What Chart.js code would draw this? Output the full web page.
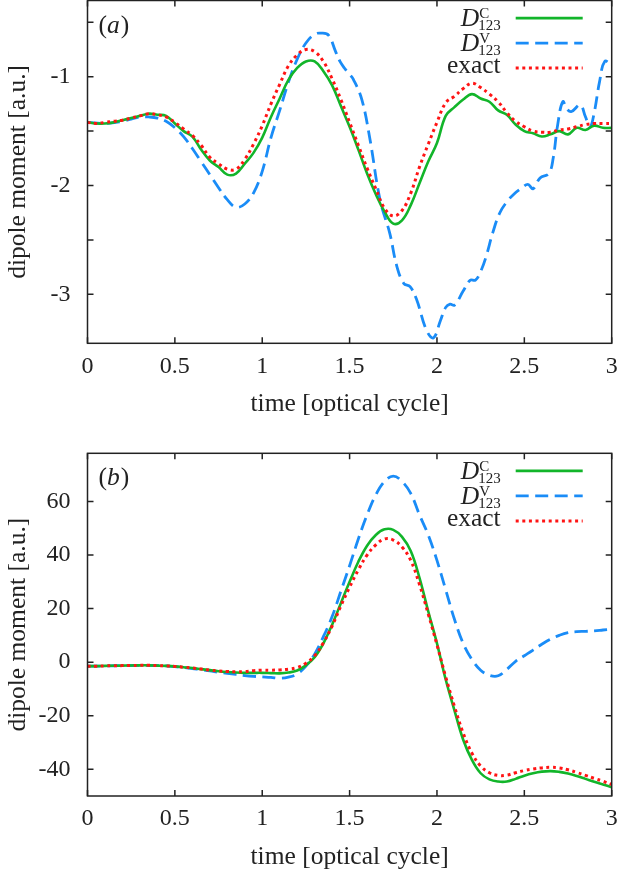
<!DOCTYPE html>
<html>
<head>
<meta charset="utf-8">
<script src="https://cdn.jsdelivr.net/npm/chart.js@4.4.1/dist/chart.umd.min.js"></script>
<style>
  html, body { margin: 0; padding: 0; background: #fff; }
  canvas { position: absolute; left: 0; }
  #chartA { top: 0; }
  #chartB { top: 430px; }
</style>
</head>
<body>
<canvas id="chartA" width="623" height="430"></canvas>
<canvas id="chartB" width="623" height="445"></canvas>
<script>
// time grid (optical cycles) shared by most curves
const tGrid = [0, 0.05, 0.1, 0.15, 0.2, 0.25, 0.3, 0.35, 0.4, 0.45, 0.5, 0.55, 0.6, 0.65, 0.7, 0.75, 0.8, 0.85, 0.9, 0.95,
  1, 1.05, 1.1, 1.15, 1.2, 1.25, 1.3, 1.35, 1.4, 1.45, 1.5, 1.55, 1.6, 1.65, 1.7, 1.75, 1.8, 1.85, 1.9, 1.95,
  2, 2.05, 2.1, 2.15, 2.2, 2.25, 2.3, 2.35, 2.4, 2.45, 2.5, 2.55, 2.6, 2.65, 2.7, 2.75, 2.8, 2.85, 2.9, 2.95, 3];

// panel (a)
const dcA = [-1.42, -1.43, -1.43, -1.42, -1.40, -1.38, -1.36, -1.34, -1.35, -1.36, -1.43, -1.50, -1.55, -1.67, -1.77, -1.83, -1.90, -1.89, -1.80, -1.70,
  -1.56, -1.37, -1.20, -1.03, -0.92, -0.86, -0.86, -0.95, -1.08, -1.27, -1.46, -1.67, -1.89, -2.08, -2.24, -2.35, -2.32, -2.18, -1.98, -1.78,
  -1.61, -1.36, -1.28, -1.21, -1.16, -1.20, -1.23, -1.31, -1.35, -1.44, -1.50, -1.52, -1.55, -1.53, -1.50, -1.53, -1.47, -1.49, -1.45, -1.47, -1.47];
const exactA = [-1.42, -1.43, -1.42, -1.41, -1.40, -1.38, -1.36, -1.34, -1.35, -1.37, -1.42, -1.48, -1.54, -1.63, -1.74, -1.80, -1.85, -1.85, -1.76, -1.62,
  -1.45, -1.25, -1.07, -0.90, -0.80, -0.75, -0.77, -0.86, -1.02, -1.21, -1.42, -1.63, -1.84, -2.03, -2.21, -2.28, -2.23, -2.07, -1.83, -1.62,
  -1.42, -1.24, -1.18, -1.11, -1.06, -1.10, -1.16, -1.23, -1.33, -1.41, -1.46, -1.50, -1.51, -1.51, -1.49, -1.48, -1.46, -1.44, -1.43, -1.43, -1.43];
// D^V is wigglier, so it gets its own time points
const tVA = [0, 0.1, 0.2, 0.25, 0.3, 0.35, 0.4, 0.45, 0.5, 0.55, 0.6, 0.65, 0.7, 0.75, 0.8, 0.85, 0.9, 0.95, 1.0, 1.05,
  1.1, 1.15, 1.2, 1.25, 1.3, 1.34, 1.38, 1.42, 1.445, 1.47, 1.5, 1.52, 1.57, 1.617, 1.674, 1.73, 1.77, 1.81, 1.846, 1.884,
  1.94, 1.98, 2.02, 2.05, 2.075, 2.1, 2.15, 2.19, 2.22, 2.25, 2.28, 2.32, 2.36, 2.4, 2.44, 2.48, 2.52, 2.55, 2.59, 2.64,
  2.665, 2.69, 2.72, 2.745, 2.77, 2.82, 2.85, 2.876, 2.9, 2.93, 2.96, 3.0];
const dvA = [-1.42, -1.43, -1.41, -1.39, -1.37, -1.37, -1.38, -1.41, -1.47, -1.55, -1.66, -1.78, -1.90, -2.02, -2.13, -2.20, -2.17, -2.07, -1.87, -1.56,
  -1.31, -1.05, -0.84, -0.69, -0.61, -0.60, -0.62, -0.77, -0.86, -0.92, -0.98, -1.02, -1.21, -1.58, -2.13, -2.44, -2.74, -2.90, -2.93, -3.05,
  -3.33, -3.40, -3.24, -3.12, -3.09, -3.10, -2.97, -2.87, -2.87, -2.79, -2.66, -2.43, -2.25, -2.15, -2.08, -2.03, -1.99, -2.03, -1.93, -1.89,
  -1.75, -1.45, -1.23, -1.30, -1.32, -1.26, -1.37, -1.46, -1.33, -1.05, -0.86, -0.89];

// panel (b)
const dcB = [-1.5, -1.5, -1.4, -1.35, -1.3, -1.25, -1.2, -1.2, -1.3, -1.4, -1.6, -1.9, -2.2, -2.6, -3.0, -3.4, -3.7, -3.9, -4.0, -4.0,
  -4.0, -4.1, -4.2, -3.9, -3.1, -1.2, 1.8, 7, 14, 22, 30, 37.5, 43.5, 47.5, 49.6, 49.4, 46.8, 41.5, 31.5, 19,
  7, -6.5, -18, -29, -36.5, -41.5, -43.8, -44.6, -44.6, -43.6, -42.4, -41.5, -40.9, -40.7, -41, -41.6, -42.5, -43.6, -44.7, -45.7, -46.7];
const dvB = [-1.5, -1.5, -1.4, -1.35, -1.3, -1.25, -1.2, -1.2, -1.3, -1.4, -1.7, -2.0, -2.4, -2.9, -3.3, -3.8, -4.2, -4.6, -5.0, -5.3,
  -5.5, -5.7, -6.0, -5.6, -4.4, -1.5, 3, 9.5, 17, 26.5, 36, 46, 55, 62.5, 67.5, 69.5, 67.5, 63, 55, 47.5,
  38, 27, 16, 7, 1, -3, -4.9, -5.1, -2.7, 0.3, 2.4, 4.5, 6.7, 8.6, 10, 11, 11.4, 11.5, 11.7, 12, 12.3];
const exactB = [-1.5, -1.5, -1.4, -1.35, -1.3, -1.25, -1.2, -1.2, -1.3, -1.4, -1.6, -1.9, -2.2, -2.6, -3.0, -3.3, -3.5, -3.6, -3.5, -3.2,
  -3.0, -3.0, -2.9, -2.6, -2.0, -0.4, 2.4, 7.2, 13.5, 21, 28, 34.5, 40, 43.8, 46, 45.6, 43, 38, 29, 18,
  6.5, -5.5, -16.5, -26.5, -34, -38.8, -41.3, -42.3, -42.2, -41.3, -40.5, -39.9, -39.5, -39.3, -39.5, -40.2, -41.2, -42.3, -43.4, -44.5, -45.7];

// ticks
const xTicks = [0, 0.5, 1, 1.5, 2, 2.5, 3];
const xLabels = ['0', '0.5', '1', '1.5', '2', '2.5', '3'];
const yTicksA = [-3, -2.5, -2, -1.5, -1, -0.5];
const yLabelsA = ['-3', '', '-2', '', '-1', ''];
const yTicksB = [-40, -20, 0, 20, 40, 60];
const yLabelsB = ['-40', '-20', '0', '20', '40', '60'];

const SERIF = '"Liberation Serif", "DejaVu Serif", serif';
const INK = '#222';
const styles = {
  dc: { color: '#12b52a', width: 2.6, dash: [] },
  dv: { color: '#1a8cf7', width: 2.8, dash: [13, 6.5] },
  exact: { color: '#ff1414', width: 3, dash: [3, 3.6] }
};

Chart.defaults.font.family = SERIF;
Chart.defaults.color = INK;

function pts(ts, vs) {
  return ts.map((t, i) => ({ x: t, y: vs[i] }));
}

function lineSet(label, data, st, order) {
  return {
    label: label,
    data: data,
    borderColor: st.color,
    borderWidth: st.width,
    borderDash: st.dash,
    pointRadius: 0,
    fill: false,
    tension: 0.4,
    order: order
  };
}

// frame with inward ticks on all four sides, key and panel label
const framePlugin = {
  id: 'frame',
  afterDatasetsDraw(chart, args, opts) {
    const ctx = chart.ctx;
    const a = chart.chartArea;
    const xs = chart.scales.x, ys = chart.scales.y;
    ctx.save();
    ctx.strokeStyle = INK;
    ctx.lineWidth = 1.5;
    ctx.setLineDash([]);
    ctx.strokeRect(a.left, a.top, a.right - a.left, a.bottom - a.top);
    ctx.beginPath();
    xs.ticks.forEach(t => {
      const px = xs.getPixelForValue(t.value);
      ctx.moveTo(px, a.bottom); ctx.lineTo(px, a.bottom - 6);
      ctx.moveTo(px, a.top); ctx.lineTo(px, a.top + 6);
    });
    ys.ticks.forEach(t => {
      const py = ys.getPixelForValue(t.value);
      ctx.moveTo(a.left, py); ctx.lineTo(a.left + 6, py);
      ctx.moveTo(a.right, py); ctx.lineTo(a.right - 6, py);
    });
    ctx.stroke();

    // panel label like "(a)"
    const lx = a.left + 11, ly = a.top + 32;
    ctx.fillStyle = INK;
    ctx.textBaseline = 'alphabetic';
    ctx.textAlign = 'left';
    ctx.font = '25.5px ' + SERIF;
    ctx.fillText('(', lx, ly);
    let w = ctx.measureText('(').width;
    ctx.font = 'italic 25.5px ' + SERIF;
    ctx.fillText(opts.panel, lx + w, ly);
    w += ctx.measureText(opts.panel).width + 1;
    ctx.font = '25.5px ' + SERIF;
    ctx.fillText(')', lx + w, ly);

    // key
    const xr = a.right - 111;
    const rows = [
      { sup: 'C', st: styles.dc },
      { sup: 'V', st: styles.dv },
      { text: 'exact', st: styles.exact }
    ];
    rows.forEach((row, i) => {
      const L = a.top + 17.6 + i * 25;
      ctx.fillStyle = INK;
      if (row.sup) {
        ctx.font = '15px ' + SERIF;
        ctx.textAlign = 'left';
        const sw = ctx.measureText('123').width;
        const sx = xr - sw;
        ctx.fillText('123', sx, L + 12);
        ctx.fillText(row.sup, sx + 1, L);
        ctx.font = 'italic 25.5px ' + SERIF;
        ctx.textAlign = 'right';
        ctx.fillText('D', sx + 1, L + 7.7);
      } else {
        ctx.font = '25.5px ' + SERIF;
        ctx.textAlign = 'right';
        ctx.fillText(row.text, xr, L + 5);
      }
      ctx.beginPath();
      ctx.strokeStyle = row.st.color;
      ctx.lineWidth = row.st.width;
      ctx.setLineDash(row.st.dash);
      ctx.moveTo(a.right - 96, L);
      ctx.lineTo(a.right - 29, L);
      ctx.stroke();
    });
    ctx.restore();
  }
};

function makePanel(id, cfg) {
  return new Chart(document.getElementById(id), {
    type: 'line',
    data: {
      datasets: [
        lineSet('exact', cfg.exact, styles.exact, 0),
        lineSet('D123C', cfg.dc, styles.dc, 1),
        lineSet('D123V', cfg.dv, styles.dv, 2)
      ]
    },
    options: {
      responsive: false,
      animation: false,
      events: [],
      layout: { padding: { top: cfg.top, right: 11.3, bottom: 0, left: 0 } },
      plugins: {
        legend: { display: false },
        tooltip: { enabled: false },
        frame: { panel: cfg.panel }
      },
      scales: {
        x: {
          type: 'linear',
          min: 0,
          max: 3,
          grid: { display: false, drawTicks: false },
          border: { display: false },
          afterBuildTicks: s => { s.ticks = xTicks.map(v => ({ value: v })); },
          ticks: {
            padding: cfg.xPad,
            maxRotation: 0,
            font: { size: 24 },
            callback: (v, i) => xLabels[i]
          },
          title: {
            display: true,
            text: 'time [optical cycle]',
            font: { size: 25.5 },
            padding: { top: 0, bottom: cfg.xTitlePad }
          },
          afterFit: s => {
            s.height = cfg.xHeight;
            s.paddingLeft = 0;
            s.paddingRight = 0;
          }
        },
        y: {
          type: 'linear',
          min: cfg.yMin,
          max: cfg.yMax,
          grid: { display: false, drawTicks: false },
          border: { display: false },
          afterBuildTicks: s => { s.ticks = cfg.yTicks.map(v => ({ value: v })); },
          ticks: {
            padding: 17,
            font: { size: 24 },
            callback: (v, i) => cfg.yLabels[i]
          },
          title: {
            display: true,
            text: 'dipole moment [a.u.]',
            font: { size: 25.5 },
            padding: { top: 2.7, bottom: 0 }
          },
          afterFit: s => {
            s.width = 87.5;
            s.paddingTop = 0;
            s.paddingBottom = 0;
          }
        }
      }
    },
    plugins: [framePlugin]
  });
}

makePanel('chartA', {
  panel: 'a',
  dc: pts(tGrid, dcA),
  dv: pts(tVA, dvA),
  exact: pts(tGrid, exactA),
  yMin: -3.45, yMax: -0.3,
  yTicks: yTicksA, yLabels: yLabelsA,
  top: 0.5, xHeight: 86.7, xPad: 9, xTitlePad: 10.7
});

makePanel('chartB', {
  panel: 'b',
  dc: pts(tGrid, dcB),
  dv: pts(tGrid, dvB),
  exact: pts(tGrid, exactB),
  yMin: -50, yMax: 78,
  yTicks: yTicksB, yLabels: yLabelsB,
  top: 23.3, xHeight: 79, xPad: 8, xTitlePad: 2.2
});
</script>
</body>
</html>
